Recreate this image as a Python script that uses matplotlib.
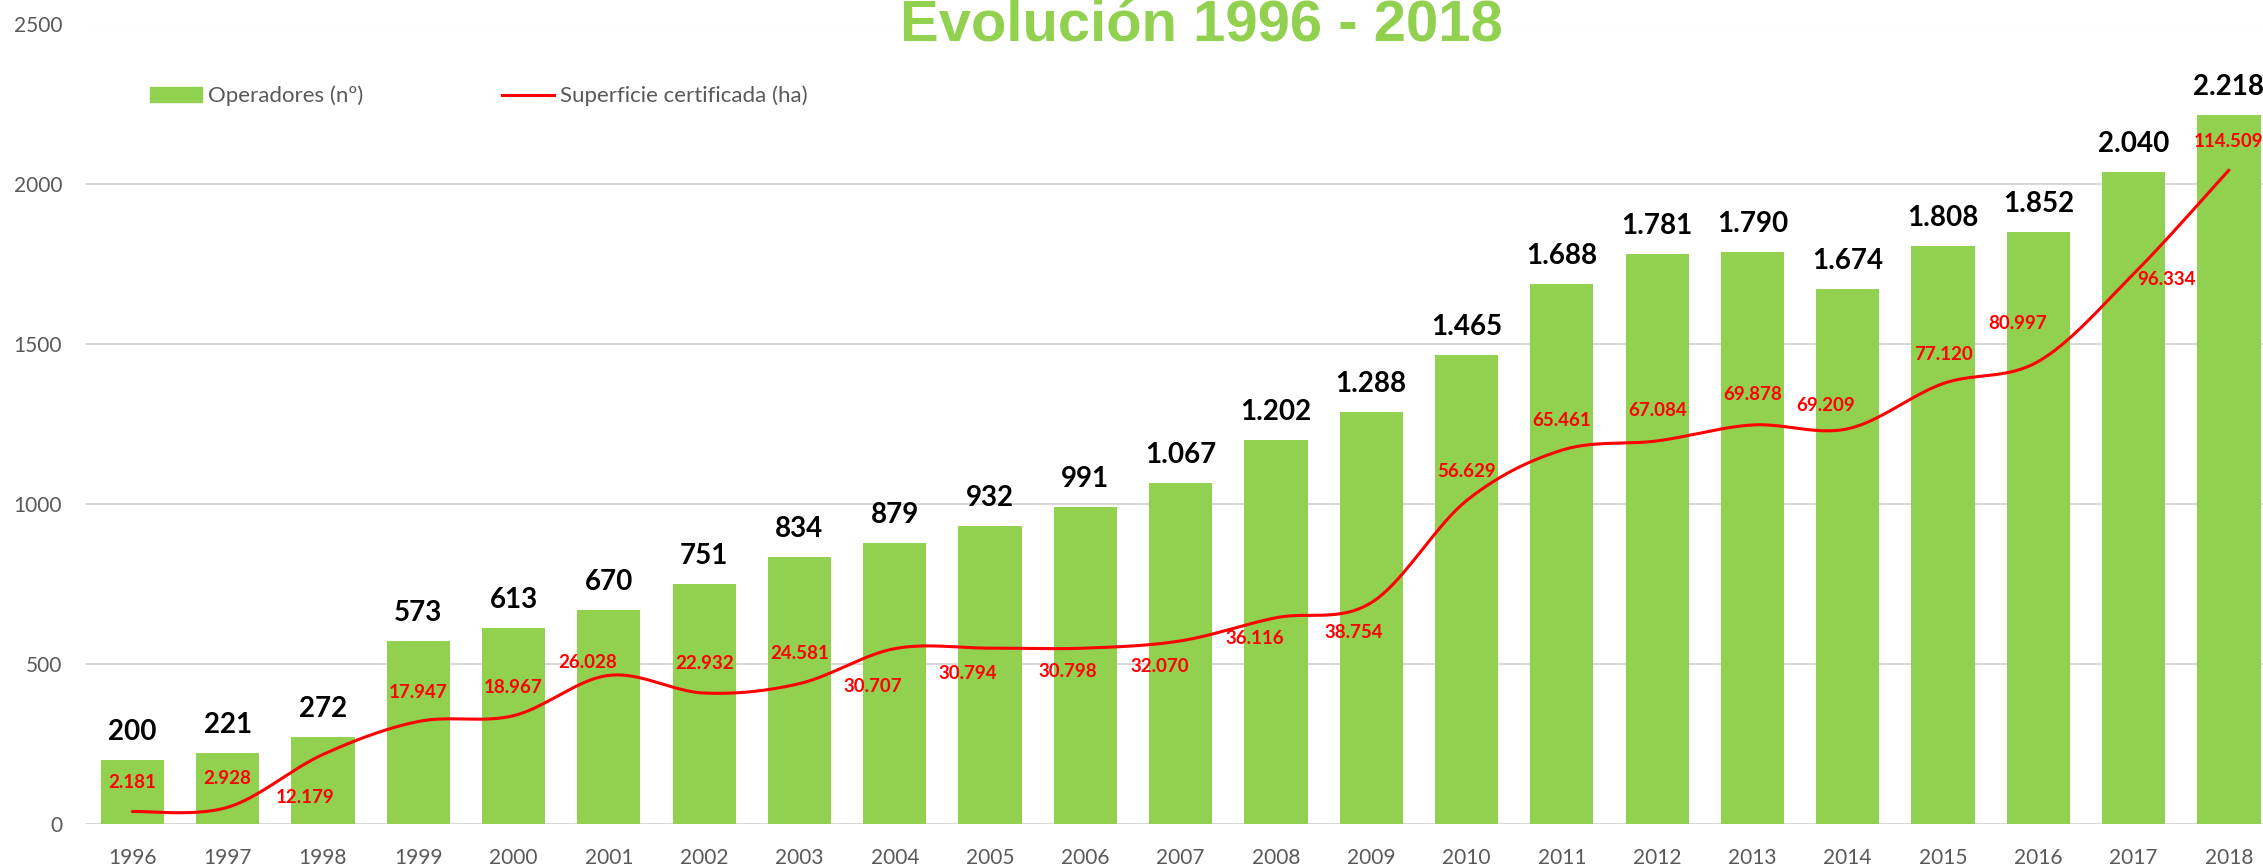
import numpy as np
import matplotlib
matplotlib.use("Agg")
import matplotlib.pyplot as plt
from matplotlib.patches import Patch
from matplotlib.lines import Line2D


YEARS = [str(y) for y in range(1996, 2019)]
OPERADORES = [200, 221, 272, 573, 613, 670, 751, 834, 879, 932, 991, 1067,
              1202, 1288, 1465, 1688, 1781, 1790, 1674, 1808, 1852, 2040, 2218]
SUPERFICIE = [2181, 2928, 12179, 17947, 18967, 26028, 22932, 24581, 30707,
              30794, 30798, 32070, 36116, 38754, 56629, 65461, 67084, 69878,
              69209, 77120, 80997, 96334, 114509]

# where each red label sits relative to its point (pixels, label centre)
RED_LABEL_SHIFT = [(0, 30), (0, 30), (-18, -42), (0, 30), (0, 29), (-21, 14),
                   (0, 31), (0, 31), (-22, -37), (-22, -24), (-18, -22),
                   (-21, -25), (-21, -20), (-17, -29), (0, 30), (0, 31),
                   (0, 31), (0, 31), (-22, 24), (0, 30), (-21, 39), (33, -5),
                   (0, 30)]

GREEN = "#92D050"
RED = "#FF0000"
GRAY_TEXT = "#595959"
GRID = "#D9D9D9"
DPI = 100
PX = 72 / DPI  # points per pixel

W, H = 2263, 866


def fmt_es(v):
    return f"{v:,}".replace(",", ".")


def smooth_curve(x, y, steps=40):
    # catmull-rom style bezier like excel's smoothed line
    x = np.asarray(x, float)
    y = np.asarray(y, float)
    px = np.concatenate([[x[0]], x, [x[-1]]])
    py = np.concatenate([[y[0]], y, [y[-1]]])
    t = np.linspace(0, 1, steps)
    xs, ys = [], []
    for i in range(len(x) - 1):
        p0 = np.array([px[i], py[i]])
        p1 = np.array([px[i + 1], py[i + 1]])
        p2 = np.array([px[i + 2], py[i + 2]])
        p3 = np.array([px[i + 3], py[i + 3]])
        c1 = p1 + (p2 - p0) / 6
        c2 = p2 - (p3 - p1) / 6
        b = ((1 - t) ** 3)[:, None] * p1 + (3 * (1 - t) ** 2 * t)[:, None] * c1 \
            + (3 * (1 - t) * t ** 2)[:, None] * c2 + (t ** 3)[:, None] * p2
        xs.extend(b[:, 0])
        ys.extend(b[:, 1])
    return np.array(xs), np.array(ys)


def main():
    plt.rcParams["font.family"] = ["Lato", "DejaVu Sans"]
    fig = plt.figure(figsize=(W / DPI, H / DPI), dpi=DPI)

    left = 84.7 / W
    width = 23 * 95.3 / W
    bottom = (H - 824) / H
    height = (824 - 24.5) / H
    ax = fig.add_axes([left, bottom, width, height])

    x = np.arange(len(YEARS))
    bars = ax.bar(x, OPERADORES, width=0.664, color=GREEN, zorder=2)
    ax.set_xlim(-0.5, len(YEARS) - 0.5)
    ax.set_ylim(0, 2500)
    ax.set_yticks(range(0, 2501, 500))
    ax.set_xticks(x)
    ax.set_xticklabels(YEARS)
    ax.tick_params(axis="both", length=0, labelsize=15, labelcolor=GRAY_TEXT)
    ax.tick_params(axis="y", pad=16.3)
    ax.tick_params(axis="x", pad=17)
    ax.grid(axis="y", color=GRID, linewidth=1.5, zorder=0)
    ax.set_axisbelow(True)
    for s in ax.spines.values():
        s.set_visible(False)

    for rect, v in zip(bars, OPERADORES):
        ax.annotate(fmt_es(v), (rect.get_x() + rect.get_width() / 2, v),
                    xytext=(0, 20 * PX), textcoords="offset points",
                    ha="center", va="baseline", fontsize=20,
                    fontweight="bold", color="black", zorder=5)

    ax2 = ax.twinx()
    ax2.set_ylim(0, 140000)
    ax2.set_xlim(-0.5, len(YEARS) - 0.5)
    ax2.axis("off")
    sx, sy = smooth_curve(x, SUPERFICIE)
    ax2.plot(sx, sy, color=RED, linewidth=2.2, solid_capstyle="round", zorder=3)

    for xi, v, (dx, dy) in zip(x, SUPERFICIE, RED_LABEL_SHIFT):
        ax2.annotate(fmt_es(v), (xi, v),
                     xytext=(dx * PX, (dy - 6.5) * PX), textcoords="offset points",
                     ha="center", va="baseline", fontsize=13.5,
                     fontweight="bold", color=RED, zorder=6)

    fig.text(1201 / W, 1 - 41 / H, "Evolución 1996 - 2018",
             ha="center", va="baseline", fontsize=41.8, fontweight="bold",
             color=GREEN, family=["Liberation Sans", "DejaVu Sans"])

    leg_kw = dict(loc="center left", frameon=False, borderpad=0,
                  borderaxespad=0, handlelength=2.36, handletextpad=0.27,
                  handleheight=0.63, fontsize=16, labelcolor=GRAY_TEXT)
    fig.legend(handles=[Patch(color=GREEN, label="Operadores (nº)")],
               bbox_to_anchor=(149.5 / W, 1 - 96 / H), **leg_kw)
    fig.legend(handles=[Line2D([], [], color=RED, lw=2.2,
                               label="Superficie certificada (ha)")],
               bbox_to_anchor=(501.5 / W, 1 - 96 / H), **leg_kw)

    fig.savefig("out.png", dpi=DPI)


if __name__ == "__main__":
    main()
